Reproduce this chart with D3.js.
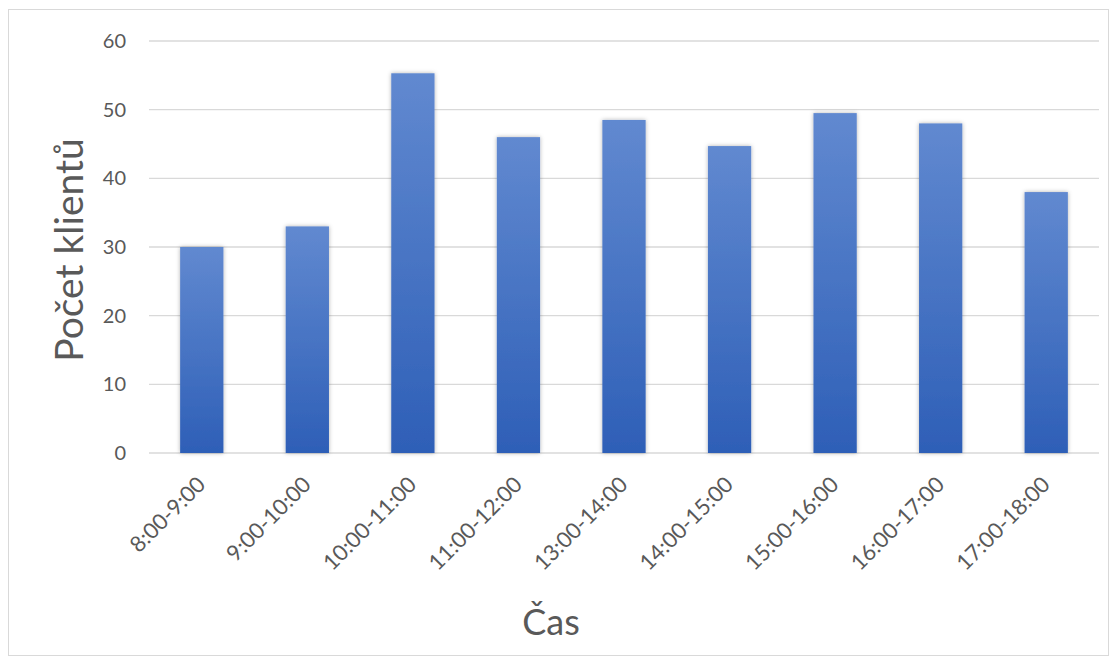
<!DOCTYPE html>
<html>
<head>
<meta charset="utf-8">
<script src="https://cdn.jsdelivr.net/npm/d3@7"></script>
<style>
  body { margin: 0; background: #fff; }
  svg { display: block; font-family: Lato, "Noto Sans", sans-serif; }
</style>
</head>
<body>
<svg width="1115" height="660" viewBox="0 0 1115 660"></svg>
<script>
const categories = ["8:00-9:00", "9:00-10:00", "10:00-11:00", "11:00-12:00", "13:00-14:00",
    "14:00-15:00", "15:00-16:00", "16:00-17:00", "17:00-18:00"];
const clients = [30, 33, 55.3, 46, 48.5, 44.7, 49.5, 48, 38];
const yTicks = [0, 10, 20, 30, 40, 50, 60];

const svg = d3.select("svg");
const margin = {left: 149, right: 16, top: 41, bottom: 207};
const width = 1115, height = 660;

// outer chart border
svg.append("rect")
    .attr("x", 8.5).attr("y", 9.5)
    .attr("width", 1100).attr("height", 646)
    .attr("fill", "#fff")
    .attr("stroke", "#d9d9d9");

const defs = svg.append("defs");
const grad = defs.append("linearGradient")
    .attr("id", "barGrad").attr("x1", 0).attr("y1", 0).attr("x2", 0).attr("y2", 1);
grad.append("stop").attr("offset", "0%").attr("stop-color", "#6189d0");
grad.append("stop").attr("offset", "100%").attr("stop-color", "#2e5fb7");

const shadow = defs.append("filter").attr("id", "shadow")
    .attr("x", "-20%").attr("y", "-5%").attr("width", "140%").attr("height", "110%");
shadow.append("feDropShadow")
    .attr("dx", 0).attr("dy", 0).attr("stdDeviation", 2)
    .attr("flood-color", "#000").attr("flood-opacity", 0.3);

const x = d3.scaleBand()
    .domain(categories)
    .range([margin.left, width - margin.right])
    .paddingInner(0.59)
    .paddingOuter(0.295);

const y = d3.scaleLinear()
    .domain([0, 60])
    .range([height - margin.bottom, margin.top]);

// gridlines
svg.append("g")
    .selectAll("line")
    .data(yTicks)
    .join("line")
    .attr("x1", margin.left).attr("x2", width - margin.right)
    .attr("y1", d => y(d)).attr("y2", d => y(d))
    .attr("stroke", "#d9d9d9")
    .attr("stroke-width", 1.3);

// y tick labels
svg.append("g")
    .selectAll("text")
    .data(yTicks)
    .join("text")
    .attr("x", 126)
    .attr("y", d => y(d))
    .attr("dy", "0.35em")
    .attr("text-anchor", "end")
    .attr("font-size", 20)
    .attr("fill", "#595959")
    .text(d => d);

// bars
svg.append("g")
    .selectAll("rect")
    .data(clients)
    .join("rect")
    .attr("x", (d, i) => x(categories[i]))
    .attr("y", d => y(d))
    .attr("width", x.bandwidth())
    .attr("height", d => y(0) - y(d))
    .attr("fill", "url(#barGrad)")
    .attr("filter", "url(#shadow)");

// x tick labels, rotated
svg.append("g")
    .selectAll("text")
    .data(categories)
    .join("text")
    .attr("transform", d => `translate(${x(d) + x.bandwidth() / 2 + 5},${y(0) + 33}) rotate(-45)`)
    .attr("text-anchor", "end")
    .attr("font-size", 22)
    .attr("fill", "#595959")
    .text(d => d);

// axis titles
svg.append("text")
    .attr("transform", `translate(83,250) rotate(-90)`)
    .attr("text-anchor", "middle")
    .attr("font-size", 39)
    .attr("fill", "#595959")
    .text("Počet klientů");

svg.append("text")
    .attr("x", 551)
    .attr("y", 635)
    .attr("text-anchor", "middle")
    .attr("font-size", 36)
    .attr("fill", "#595959")
    .text("Čas");
</script>
</body>
</html>
